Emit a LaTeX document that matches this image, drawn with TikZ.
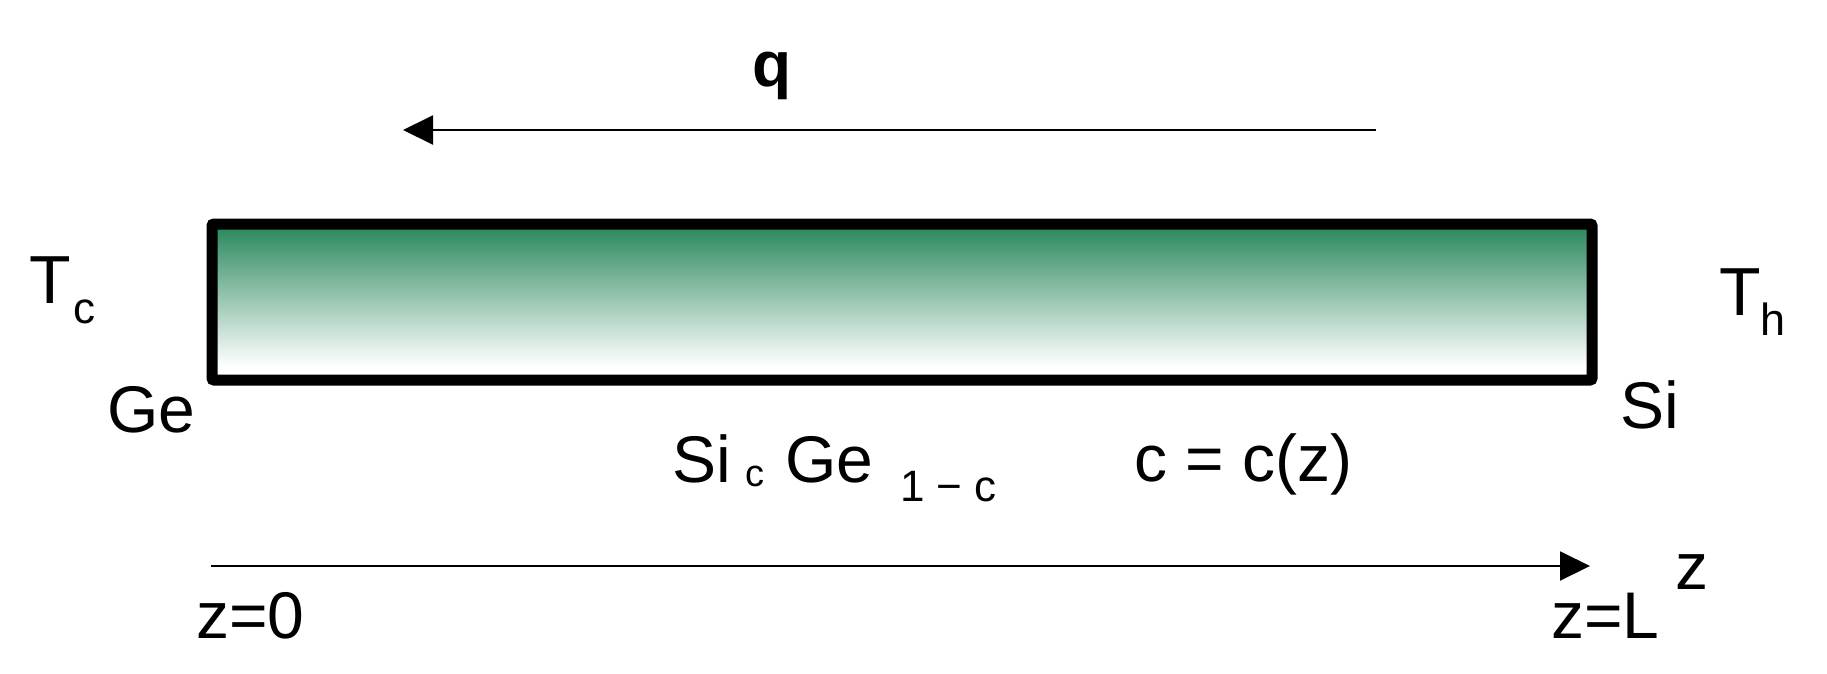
\documentclass[tikz,border=0pt]{standalone}
\usepackage{fontspec}
\setmainfont{Liberation Sans}
\usetikzlibrary{arrows.meta}
\definecolor{sgreen}{RGB}{45,138,95}
\begin{document}
\begin{tikzpicture}[x=1pt,y=-1pt,
  lbl/.style={inner sep=0pt, anchor=base west, font=\fontsize{66}{79}\selectfont},
  subtxt/.style={inner sep=0pt, anchor=base west, font=\fontsize{44}{52}\selectfont},
  arr/.style={line width=2pt, -{Triangle[length=30pt,width=29pt]}},
  bar/.style={line width=11pt, rounded corners=2pt}]
\useasboundingbox (0,0) rectangle (1827,673);
% bar
\fill[white] (212,224) rectangle (1592,380);
\shade[top color=sgreen, bottom color=white] (212,228) rectangle (1592,366);
\draw[bar] (212,224) rectangle (1592,380);
% heat flux arrow
\coordinate (qs) at (1376,130);
\coordinate (qe) at (403,130);
\draw[arr] (qs) -- (qe);
\node[lbl, font=\bfseries\fontsize{64}{77}\selectfont] (q) at (752,86) {q};
% temperatures
\node[lbl, font=\fontsize{68}{80}\selectfont] (Tc) at (29,303) {T};
\node[subtxt] (Tcs) at (73,323) {c};
\node[lbl, font=\fontsize{68}{80}\selectfont] (Th) at (1719,315) {T};
\node[subtxt, font=\fontsize{45}{54}\selectfont] (Ths) at (1760,335) {h};
% ends
\node[lbl] (Ge) at (107,432) {Ge};
\node[lbl] (Si) at (1620,428) {Si};
% composition
\node[lbl] (fSi) at (672,482) {Si};
\node[subtxt, font=\fontsize{38}{46}\selectfont] (fc) at (745,486) {c};
\node[lbl] (fGe) at (785,482) {Ge};
\node[subtxt] (f1c) at (900,501) {1 − c};
\node[lbl] (cz) at (1134,481) {c = c(z)};
% z axis
\coordinate (za) at (211,566);
\coordinate (zb) at (1590,566);
\draw[arr] (za) -- (zb);
\node[lbl] (z0) at (196,638) {z=0};
\node[lbl] (zL) at (1551,638) {z=L};
\node[lbl] (z) at (1675,589) {z};
\end{tikzpicture}
\end{document}
